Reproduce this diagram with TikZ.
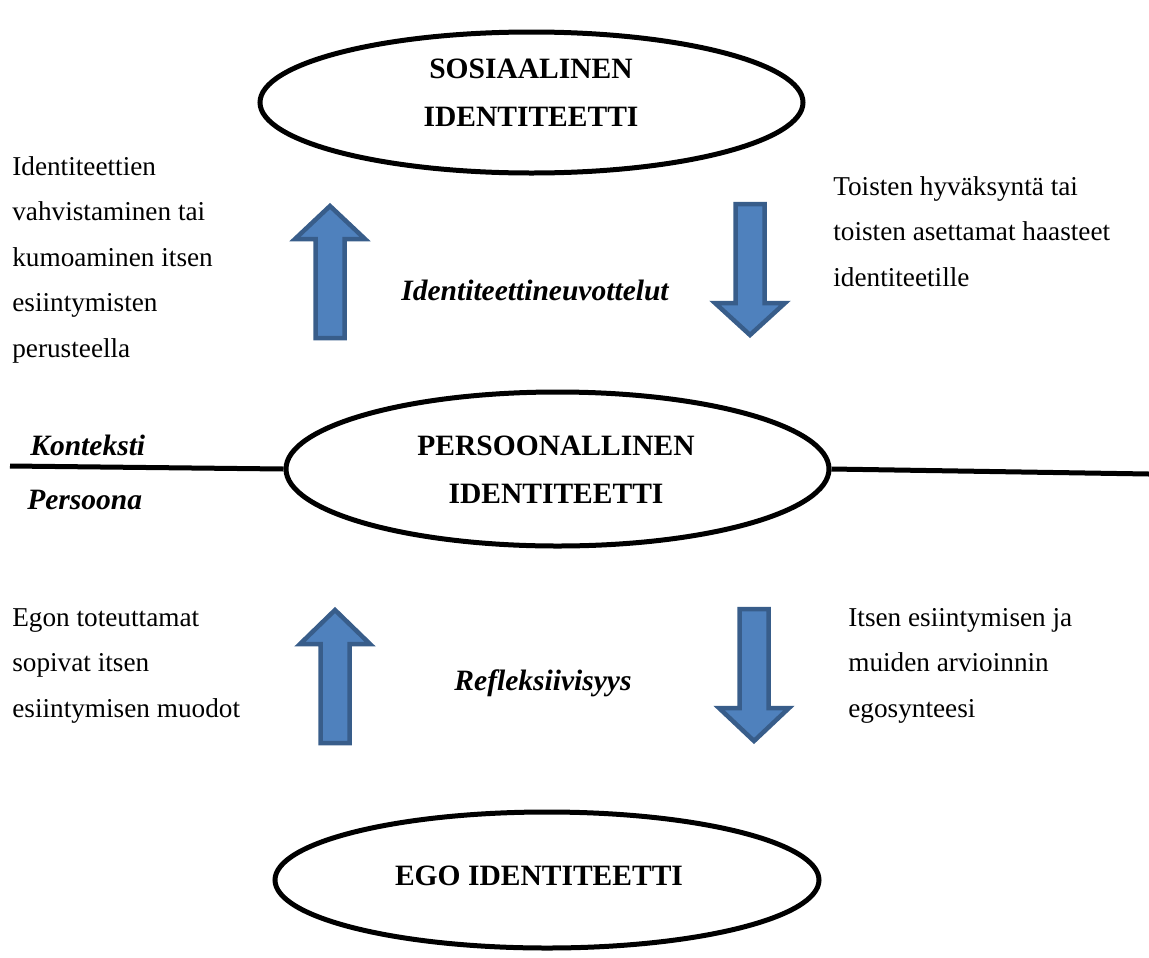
\documentclass[tikz,border=0pt]{standalone}
\usepackage{fontspec}
\setmainfont{Liberation Serif}
\usetikzlibrary{shapes.geometric}
\definecolor{arrfill}{HTML}{4F81BD}
\definecolor{arrline}{HTML}{385D8A}
\begin{document}
\begin{tikzpicture}[x=0.02cm,y=-0.02cm,
  ell/.style={draw=black, line width=0.1cm, ellipse, inner sep=0pt},
  title/.style={font=\fontsize{16.8}{27.6}\selectfont\bfseries, align=center, inner sep=0pt},
  body/.style={font=\fontsize{15.5}{25.9}\selectfont, align=left, inner sep=0pt, anchor=north west},
  lab/.style={font=\fontsize{16.8}{20}\selectfont\bfseries\itshape, inner sep=0pt},
  blockarrow/.style={draw=arrline, fill=arrfill, line width=0.09cm, line join=miter},
  sep/.style={draw=black, line width=0.1cm}
]
\useasboundingbox (0,0) rectangle (1149,957);
% ellipses
\node[ell, minimum width=543*0.02cm, minimum height=141*0.02cm] (soc) at (531.5,102.5) {};
\node[title] (socT) at (531,93) {SOSIAALINEN\\IDENTITEETTI};
\node[ell, minimum width=543*0.02cm, minimum height=154*0.02cm] (per) at (557.5,469) {};
\node[title] (perT) at (556,470) {PERSOONALLINEN\\IDENTITEETTI};
\node[ell, minimum width=544*0.02cm, minimum height=136*0.02cm] (ego) at (547,880) {};
\node[title] (egoT) at (539,876) {EGO IDENTITEETTI};
% separator line
\coordinate (lL) at (10,466);
\coordinate (lR) at (1149,474);
\draw[sep] (lL) -- (per.west);
\draw[sep] (per.east) -- (lR);
\node[lab, anchor=west] (kon) at (30,445) {Konteksti};
\node[lab, anchor=west] (pers) at (27,500) {Persoona};
% arrows
\draw[blockarrow] (330,206) -- (365,239) -- (344.5,239) -- (344.5,338) -- (315.5,338) -- (315.5,239) -- (295,239) -- cycle;
\draw[blockarrow] (750,335) -- (785,303) -- (764.5,303) -- (764.5,204) -- (735.5,204) -- (735.5,303) -- (715,303) -- cycle;
\draw[blockarrow] (335,610) -- (370,644) -- (349.5,644) -- (349.5,743) -- (320.5,743) -- (320.5,644) -- (300,644) -- cycle;
\draw[blockarrow] (754,741) -- (789,708) -- (768.5,708) -- (768.5,609) -- (739.5,609) -- (739.5,708) -- (719,708) -- cycle;
% labels
\node[lab] (neg) at (535,290) {Identiteettineuvottelut};
\node[lab] (ref) at (543,683) {Refleksiivisyys};
% texts
\node[body] (t1) at (12,156) {Identiteettien\\vahvistaminen tai\\kumoaminen itsen\\esiintymisten\\perusteella};
\node[body] (t2) at (833,176) {Toisten hyväksyntä tai\\toisten asettamat haasteet\\identiteetille};
\node[body] (t3) at (12,608) {Egon toteuttamat\\sopivat itsen\\esiintymisen muodot};
\node[body] (t4) at (848,608) {Itsen esiintymisen ja\\muiden arvioinnin\\egosynteesi};
\end{tikzpicture}
\end{document}
